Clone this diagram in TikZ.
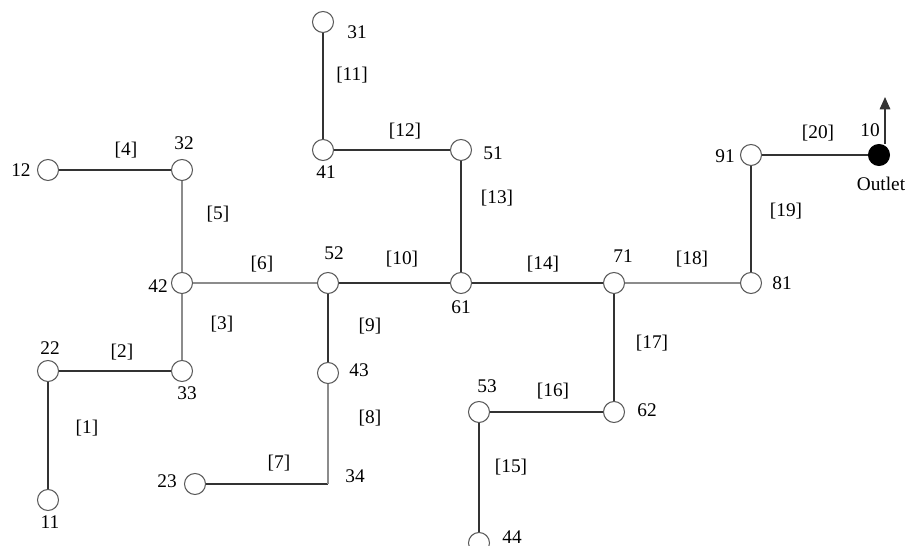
\documentclass[tikz,border=0pt]{standalone}
\usepackage{fontspec}
\setmainfont{Liberation Serif}
\usetikzlibrary{arrows.meta}

\begin{document}
\begin{tikzpicture}[
  x=0.02cm, y=-0.02cm,
  >={Triangle[width=6pt,length=7pt]},
  junc/.style   = {draw=black!65, circle, fill=white, minimum size=4.2mm,
                   inner sep=0pt, line width=0.6pt},
  outlet/.style = {junc, draw=black, fill=black},
  num/.style    = {font=\fontsize{11}{13}\selectfont, inner sep=1pt},
  pipe/.style   = {draw=black!80, line width=0.75pt},
  pipeg/.style  = {draw=black!45, line width=0.75pt}
]
\useasboundingbox (0,0) rectangle (909,546);

%% ---- junctions -------------------------------------------------------
\node[junc] (n31) at (323,22)  {};
\node[junc] (n41) at (323,150) {};
\node[junc] (n51) at (461,150) {};
\node[junc] (n12) at (48,170)  {};
\node[junc] (n32) at (182,170) {};
\node[junc] (n42) at (182,283) {};
\node[junc] (n52) at (328,283) {};
\node[junc] (n61) at (461,283) {};
\node[junc] (n71) at (614,283) {};
\node[junc] (n81) at (751,283) {};
\node[junc] (n91) at (751,155) {};
\node[outlet] (n10) at (879,155) {};
\node[junc] (n22) at (48,371)  {};
\node[junc] (n33) at (182,371) {};
\node[junc] (n43) at (328,373) {};
\coordinate (n34) at (328,484);
\node[junc] (n23) at (195,484) {};
\node[junc] (n11) at (48,500)  {};
\node[junc] (n53) at (479,412) {};
\node[junc] (n62) at (614,412) {};
\node[junc] (n44) at (479,543) {};
\coordinate (up) at (885,97);

%% ---- pipes -----------------------------------------------------------
\draw[pipe]  (n11) -- (n22);
\draw[pipe]  (n22) -- (n33);
\draw[pipeg] (n33) -- (n42);
\draw[pipe]  (n12) -- (n32);
\draw[pipeg] (n32) -- (n42);
\draw[pipeg] (n42) -- (n52);
\draw[pipe]  (n23) -- (n34);
\draw[pipeg] (n34) -- (n43);
\draw[pipe]  (n43) -- (n52);
\draw[pipe]  (n52) -- (n61);
\draw[pipe]  (n31) -- (n41);
\draw[pipe]  (n41) -- (n51);
\draw[pipe]  (n51) -- (n61);
\draw[pipe]  (n61) -- (n71);
\draw[pipe]  (n44) -- (n53);
\draw[pipe]  (n53) -- (n62);
\draw[pipe]  (n62) -- (n71);
\draw[pipeg] (n71) -- (n81);
\draw[pipe]  (n81) -- (n91);
\draw[pipe]  (n91) -- (n10);
\draw[->, draw=black!80, line width=0.75pt] (up |- n10.north) -- (up);

%% ---- junction numbers ------------------------------------------------
\node[num] (t31) at (357,32)  {31};
\node[num] (t41) at (326,172) {41};
\node[num] (t51) at (493,153) {51};
\node[num] (t12) at (21,170)  {12};
\node[num] (t32) at (184,143) {32};
\node[num] (t42) at (158,286) {42};
\node[num] (t52) at (334,253) {52};
\node[num] (t61) at (461,307) {61};
\node[num] (t71) at (623,256) {71};
\node[num] (t81) at (782,283) {81};
\node[num] (t91) at (725,156) {91};
\node[num] (t10) at (870,130) {10};
\node[num] (tout) at (881,184) {Outlet};
\node[num] (t22) at (50,348)  {22};
\node[num] (t33) at (187,393) {33};
\node[num] (t43) at (359,370) {43};
\node[num] (t34) at (355,476) {34};
\node[num] (t23) at (167,481) {23};
\node[num] (t11) at (50,522)  {11};
\node[num] (t53) at (487,386) {53};
\node[num] (t62) at (647,410) {62};
\node[num] (t44) at (512,537) {44};

%% ---- pipe numbers ----------------------------------------------------
\node[num] (p1)  at (87,428)  {[1]};
\node[num] (p2)  at (122,352) {[2]};
\node[num] (p3)  at (222,324) {[3]};
\node[num] (p4)  at (126,150) {[4]};
\node[num] (p5)  at (218,214) {[5]};
\node[num] (p6)  at (262,264) {[6]};
\node[num] (p7)  at (279,463) {[7]};
\node[num] (p8)  at (370,418) {[8]};
\node[num] (p9)  at (370,326) {[9]};
\node[num] (p10) at (402,259) {[10]};
\node[num] (p11) at (352,75)  {[11]};
\node[num] (p12) at (405,131) {[12]};
\node[num] (p13) at (497,198) {[13]};
\node[num] (p14) at (543,264) {[14]};
\node[num] (p15) at (511,467) {[15]};
\node[num] (p16) at (553,391) {[16]};
\node[num] (p17) at (652,343) {[17]};
\node[num] (p18) at (692,259) {[18]};
\node[num] (p19) at (786,211) {[19]};
\node[num] (p20) at (818,133) {[20]};

\end{tikzpicture}
\end{document}
